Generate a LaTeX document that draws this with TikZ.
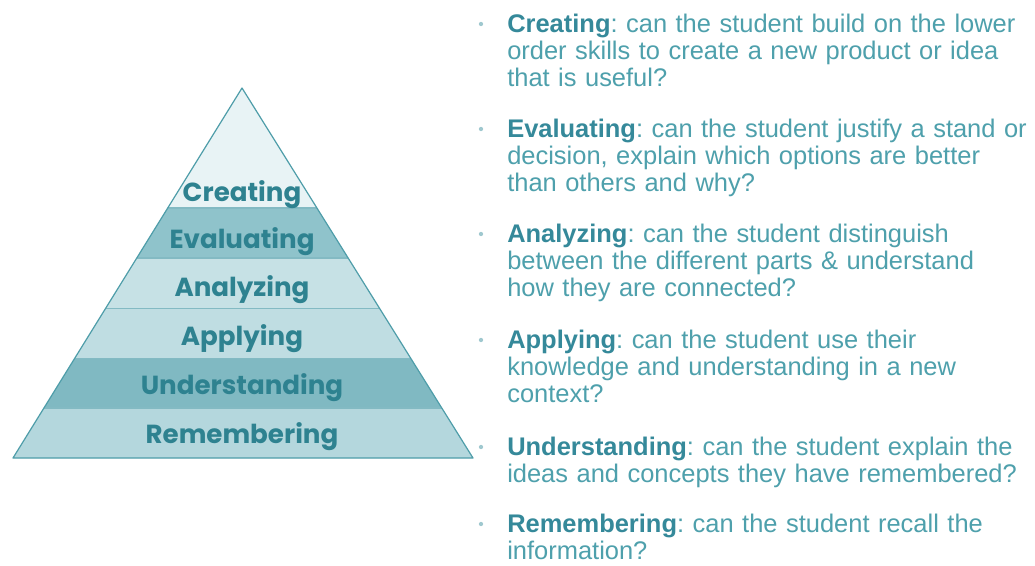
\documentclass[tikz,border=0pt]{standalone}
\usepackage{fontspec}
\setmainfont{Liberation Sans}
\newfontfamily\pyrfont{Poppins}
\usetikzlibrary{calc}
\frenchspacing
\definecolor{edgec}{HTML}{4E9DA9}
\definecolor{fillA}{HTML}{E8F3F5}
\definecolor{fillB}{HTML}{8FC3CB}
\definecolor{fillC}{HTML}{C6E1E5}
\definecolor{fillD}{HTML}{BFDDE2}
\definecolor{fillE}{HTML}{80B9C2}
\definecolor{fillF}{HTML}{B4D7DD}
\definecolor{labc}{HTML}{2E8290}
\definecolor{txtc}{HTML}{4EA0AC}
\definecolor{boldc}{HTML}{35899A}
\definecolor{dotc}{HTML}{9FC8CF}
\tikzset{
  band/.style={draw=edgec, line width=0.9pt, line join=round},
  lvl/.style={font=\pyrfont\bfseries\fontsize{19.6}{21}\selectfont, text=labc, inner sep=0pt, anchor=base},
  desc/.style={font=\fontsize{19.1}{20.6}\selectfont, text=txtc, inner sep=0pt, anchor=base west, text width=420pt, align=left},
  bul/.style={circle, fill=dotc, inner sep=0pt, minimum size=3.2pt}
}
\newcommand{\kw}[1]{\textcolor{boldc}{\textbf{#1}}}
\begin{document}
\begin{tikzpicture}[x=0.75pt,y=-0.75pt]
\path[use as bounding box, fill=white] (0,0) rectangle (1035,565);
\coordinate (apex) at (242,88);
\coordinate (bl) at (13,458);
\coordinate (br) at (473,458);
% boundary points
\foreach \n/\t in {1/0.3243,2/0.4595,3/0.5959,4/0.7311,5/0.8649,6/1}{
  \coordinate (L\n) at ($(apex)!\t!(bl)$);
  \coordinate (R\n) at ($(apex)!\t!(br)$);
}
\fill[fillA] (apex) -- (L1) -- (R1) -- cycle;
\fill[fillB] (L1) -- (L2) -- (R2) -- (R1) -- cycle;
\fill[fillC] (L2) -- (L3) -- (R3) -- (R2) -- cycle;
\fill[fillD] (L3) -- (L4) -- (R4) -- (R3) -- cycle;
\fill[fillE] (L4) -- (L5) -- (R5) -- (R4) -- cycle;
\fill[fillF] (L5) -- (L6) -- (R6) -- (R5) -- cycle;
\foreach \n in {1,...,5}{ \draw[edgec!70, line width=0.8pt] (L\n) -- (R\n); }
\draw[band] (apex) -- (bl) -- (br) -- cycle;
% labels
\node[lvl] (lcre) at (242,201) {Creating};
\node[lvl] (leva) at (242,248) {Evaluating};
\node[lvl] (lana) at (242,296) {Analyzing};
\node[lvl] (lapp) at (242,345) {Applying};
\node[lvl] (lund) at (242,394) {Understanding};
\node[lvl] (lrem) at (242,443) {Remembering};
% descriptions
\node[desc] (dcre) at (507,32) {\kw{Creating}: can the student build on the lower\\order skills to create a new product or idea\\that is useful?};
\node[desc] (deva) at (507,137) {\kw{Evaluating}: can the student justify a stand or\\decision, explain which options are better\\than others and why?};
\node[desc] (dana) at (507,242) {\kw{Analyzing}: can the student distinguish\\between the different parts \& understand\\how they are connected?};
\node[desc] (dapp) at (507,348) {\kw{Applying}: can the student use their\\knowledge and understanding in a new\\context?};
\node[desc] (dund) at (507,455) {\kw{Understanding}: can the student explain the\\ideas and concepts they have remembered?};
\node[desc] (drem) at (507,532) {\kw{Remembering}: can the student recall the\\information?};
\foreach \y/\nm in {24/bcre,129/beva,234/bana,340/bapp,447/bund,524/brem}{
  \node[bul] (\nm) at (481,\y) {};
}
\end{tikzpicture}
\end{document}
